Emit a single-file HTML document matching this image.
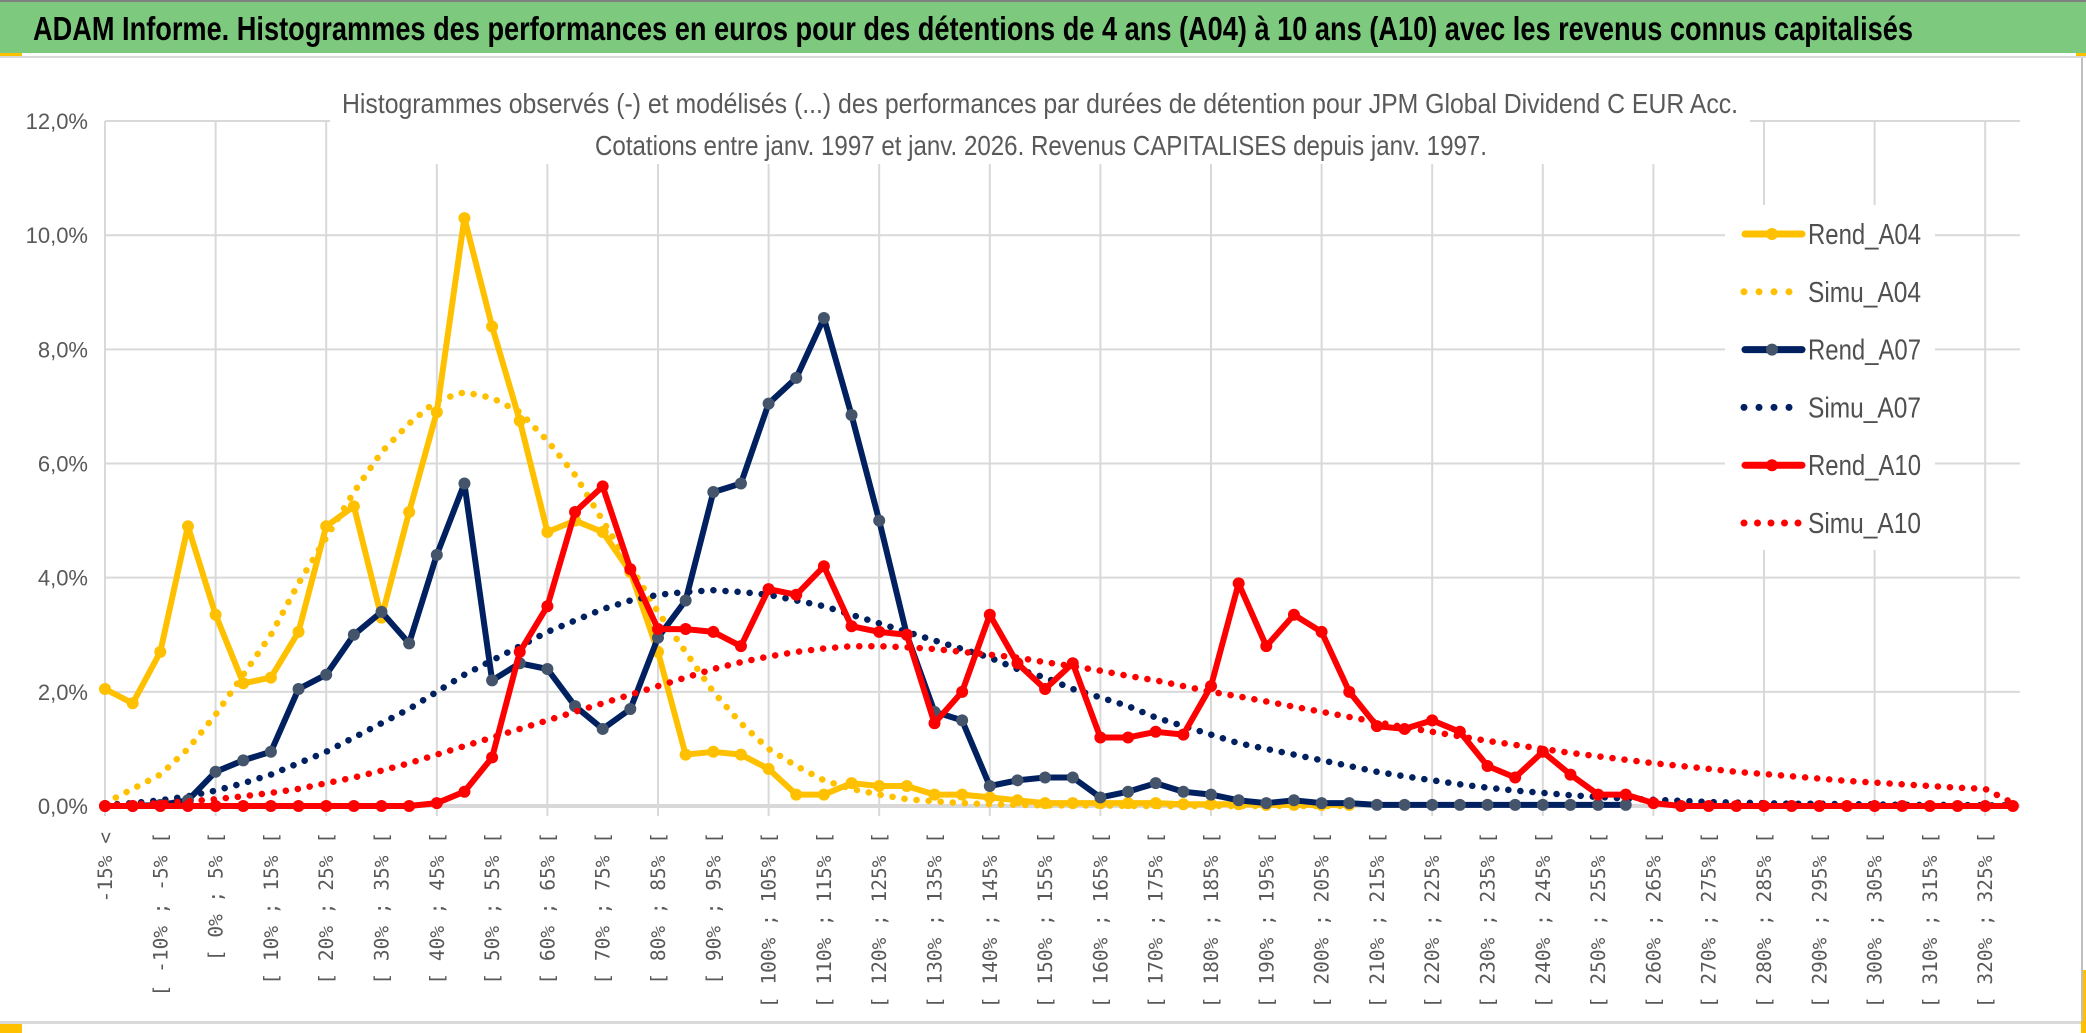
<!DOCTYPE html>
<html><head><meta charset="utf-8"><style>
html,body{margin:0;padding:0;background:#fff;}
svg{display:block;font-family:"Liberation Sans Narrow","Liberation Sans",sans-serif;}
</style></head><body>
<svg id="chart" width="2086" height="1033" viewBox="0 0 2086 1033" xmlns="http://www.w3.org/2000/svg">
<rect x="0" y="0" width="2086" height="1033" fill="#fff"/>
<rect x="0" y="0" width="2086" height="2" fill="#808080"/>
<rect x="0" y="2" width="2086" height="51" fill="#7DC97E"/>
<text x="33" y="40" font-size="33" font-weight="bold" fill="#000" textLength="1880" lengthAdjust="spacingAndGlyphs">ADAM Informe. Histogrammes des performances en euros pour des détentions de 4 ans (A04) à 10 ans (A10) avec les revenus connus capitalisés</text>
<rect x="0" y="53" width="22" height="4" fill="#FFC000"/>
<rect x="2076" y="53" width="10" height="4" fill="#FFC000"/>
<rect x="0" y="56" width="2086" height="2" fill="#d9d9d9"/>
<rect x="0" y="1021" width="2086" height="3" fill="#d9d9d9"/>
<rect x="0" y="1024" width="22" height="9" fill="#FFC000"/>
<rect x="2081" y="970" width="5" height="63" fill="#FFC000"/>
<rect x="2081" y="58" width="2" height="963" fill="#bfbfbf"/>
<g id="grid"></g>
<rect x="330" y="78" width="1420" height="86" fill="#fff"/>
<text x="1040" y="113" font-size="28" fill="#595959" text-anchor="middle" textLength="1396" lengthAdjust="spacingAndGlyphs">Histogrammes observés (-) et modélisés (...) des performances par durées de détention pour JPM Global Dividend C EUR Acc.</text>
<text x="1041" y="155" font-size="28" fill="#595959" text-anchor="middle" textLength="892" lengthAdjust="spacingAndGlyphs">Cotations entre janv. 1997 et janv. 2026. Revenus CAPITALISES depuis janv. 1997.</text>
<g id="yaxis"></g>
<g id="xaxis"></g>
<g id="series"></g>
<g id="legend"></g>
</svg>
<script>
const categories = ["-15% <","[ -15% ; -10% [","[ -10% ; -5% [","[ -5% ; 0% ["];
for (let v = 0; v <= 325; v += 5) categories.push("[ " + v + "% ; " + (v + 5) + "% [");
const yTicks = [0, 2, 4, 6, 8, 10, 12];
const yTickLabels = ["0,0%","2,0%","4,0%","6,0%","8,0%","10,0%","12,0%"];
const rendA04 = [2.05,1.8,2.7,4.9,3.35,2.15,2.25,3.05,4.9,5.25,3.3,5.15,6.9,10.3,8.4,6.75,4.8,5.0,4.8,4.1,2.7,0.9,0.95,0.9,0.65,0.2,0.2,0.4,0.35,0.35,0.2,0.2,0.15,0.1,0.05,0.05,0.05,0.05,0.05,0.03,0.03,0.03,0.02,0.02,0.02,0.02];
const simuA04 = [0.05,0.3,0.55,1.0,1.6,2.3,3.0,3.9,4.7,5.5,6.2,6.7,7.1,7.25,7.15,6.9,6.4,5.8,5.0,4.2,3.4,2.7,2.0,1.45,1.0,0.7,0.45,0.3,0.2,0.12,0.08,0.05,0.03,0.02,0.01,0.01,0.01,0,0,0,0,0,0,0,0,0];
const rendA07 = [0,0,0.02,0.1,0.6,0.8,0.95,2.05,2.3,3.0,3.4,2.85,4.4,5.65,2.2,2.5,2.4,1.75,1.35,1.7,2.95,3.6,5.5,5.65,7.05,7.5,8.55,6.85,5.0,3.0,1.65,1.5,0.35,0.45,0.5,0.5,0.15,0.25,0.4,0.25,0.2,0.1,0.05,0.1,0.05,0.05,0.02,0.02,0.02,0.02,0.02,0.02,0.02,0.02,0.02,0.02];
const simuA07 = [0.02,0.05,0.1,0.17,0.27,0.4,0.55,0.75,0.95,1.2,1.45,1.7,2.0,2.3,2.55,2.8,3.05,3.25,3.45,3.6,3.7,3.75,3.78,3.75,3.7,3.6,3.5,3.35,3.2,3.05,2.9,2.75,2.6,2.4,2.25,2.05,1.9,1.75,1.55,1.4,1.25,1.1,1.0,0.9,0.8,0.7,0.6,0.52,0.45,0.38,0.32,0.27,0.23,0.19,0.16,0.13,0.11,0.09,0.07,0.06,0.05,0.04,0.04,0.03,0.03,0.02,0.02,0.02,0.01,0.01];
const rendA10 = [0,0,0,0,0,0,0,0,0,0,0,0,0.05,0.25,0.85,2.7,3.5,5.15,5.6,4.15,3.1,3.1,3.05,2.8,3.8,3.7,4.2,3.15,3.05,3.0,1.45,2.0,3.35,2.5,2.05,2.5,1.2,1.2,1.3,1.25,2.1,3.9,2.8,3.35,3.05,2.0,1.4,1.35,1.5,1.3,0.7,0.5,0.95,0.55,0.2,0.2,0.05,0,0,0,0,0,0,0,0,0,0,0,0,0];
const simuA10 = [0.01,0.03,0.05,0.08,0.12,0.17,0.23,0.3,0.4,0.5,0.62,0.75,0.9,1.05,1.2,1.35,1.5,1.65,1.8,1.95,2.1,2.25,2.4,2.52,2.62,2.7,2.76,2.8,2.8,2.78,2.75,2.7,2.65,2.6,2.52,2.45,2.37,2.28,2.2,2.1,2.0,1.92,1.83,1.74,1.65,1.56,1.47,1.38,1.3,1.22,1.14,1.07,1.0,0.93,0.87,0.81,0.75,0.7,0.65,0.6,0.56,0.52,0.48,0.44,0.41,0.38,0.35,0.32,0.3,0.05];

const NS = "http://www.w3.org/2000/svg";
const X0 = 105, DX = 27.65, Y0 = 806, YPER = 57.08;
function xs(i){ return X0 + i * DX; }
function ys(v){ return Y0 - v * YPER; }
function mk(tag, attrs, parent){
  const el = document.createElementNS(NS, tag);
  for (const k in attrs) el.setAttribute(k, attrs[k]);
  parent.appendChild(el);
  return el;
}
const grid = document.getElementById("grid");
yTicks.forEach((t) => {
  const l = mk("line", {x1: X0, x2: 2020, y1: ys(t), y2: ys(t), stroke: "#d9d9d9", "stroke-width": t === 0 ? 4 : 2}, grid);
  
  
});
for (let i = 0; i < categories.length; i += 4) {
  const l = mk("line", {x1: xs(i), x2: xs(i), y1: ys(12), y2: ys(0) + 10, stroke: "#d9d9d9", "stroke-width": 2}, grid);
  
  
}
const ya = document.getElementById("yaxis");
yTicks.forEach((t, k) => {
  const tx = mk("text", {x: 88, y: ys(t) + 8, "font-size": 22, fill: "#595959", "text-anchor": "end"}, ya);
  tx.textContent = yTickLabels[k];
  
  
});
const xa = document.getElementById("xaxis");
for (let i = 0; i < categories.length; i += 2) {
  const x = xs(i) + 7;
  const tx = mk("text", {x: x, y: 832, "font-size": 19.5, fill: "#595959", "text-anchor": "end", "font-family": "DejaVu Sans Mono, Liberation Mono, monospace", transform: "rotate(-90 " + x + " 832)"}, xa);
  tx.textContent = categories[i];
  
  
}
const ser = document.getElementById("series");
function pts(arr){ return arr.map((v, i) => xs(i).toFixed(1) + "," + ys(v).toFixed(1)).join(" "); }
function solid(arr, color, mfill, name){
  const g = mk("g", {}, ser);
  
  
  mk("polyline", {points: pts(arr), fill: "none", stroke: color, "stroke-width": 6, "stroke-linejoin": "round"}, g);
  arr.forEach((v, i) => {
    const c = mk("circle", {cx: xs(i), cy: ys(v), r: 6, fill: mfill}, g);
    
    
  });
}
function dotted(arr, color, name){
  const p = mk("polyline", {points: pts(arr), fill: "none", stroke: color, "stroke-width": 6.5, "stroke-linecap": "round", "stroke-dasharray": "0.1 12"}, ser);
  
  
}
dotted(simuA04, "#FFC000", "simu-a04-line");
solid(rendA04, "#FFC000", "#FFC000", "rend-a04-line");
dotted(simuA07, "#002060", "simu-a07-line");
solid(rendA07, "#002060", "#44546A", "rend-a07-line");
dotted(simuA10, "#FF0000", "simu-a10-line");
solid(rendA10, "#FF0000", "#FF0000", "rend-a10-line");

const leg = document.getElementById("legend");
const lb = mk("rect", {x: 1725, y: 205, width: 210, height: 345, fill: "#fff"}, leg);


const legendNames = ["Rend_A04","Simu_A04","Rend_A07","Simu_A07","Rend_A10","Simu_A10"];
const legendColors = ["#FFC000","#FFC000","#002060","#002060","#FF0000","#FF0000"];
const legendMarker = ["#FFC000","","#44546A","","#FF0000",""];
legendNames.forEach((n, k) => {
  const y = 234 + k * 57.8;
  const g = mk("g", {}, leg);
  
  
  if (k % 2 === 0) {
    mk("line", {x1: 1745, x2: 1802, y1: y, y2: y, stroke: legendColors[k], "stroke-width": 7, "stroke-linecap": "round"}, g);
    mk("circle", {cx: 1772, cy: y, r: 6, fill: legendMarker[k]}, g);
  } else {
    const n2 = k === 5 ? 5 : 4;
    for (let j = 0; j < n2; j++) mk("circle", {cx: 1744 + j * (k === 5 ? 13.5 : 15), cy: y, r: 3.5, fill: legendColors[k]}, g);
  }
  const t = mk("text", {x: 1808, y: y + 10, "font-size": 29, fill: "#505050", textLength: 113, lengthAdjust: "spacingAndGlyphs"}, g);
  t.textContent = n;
});
</script>
</body></html>
